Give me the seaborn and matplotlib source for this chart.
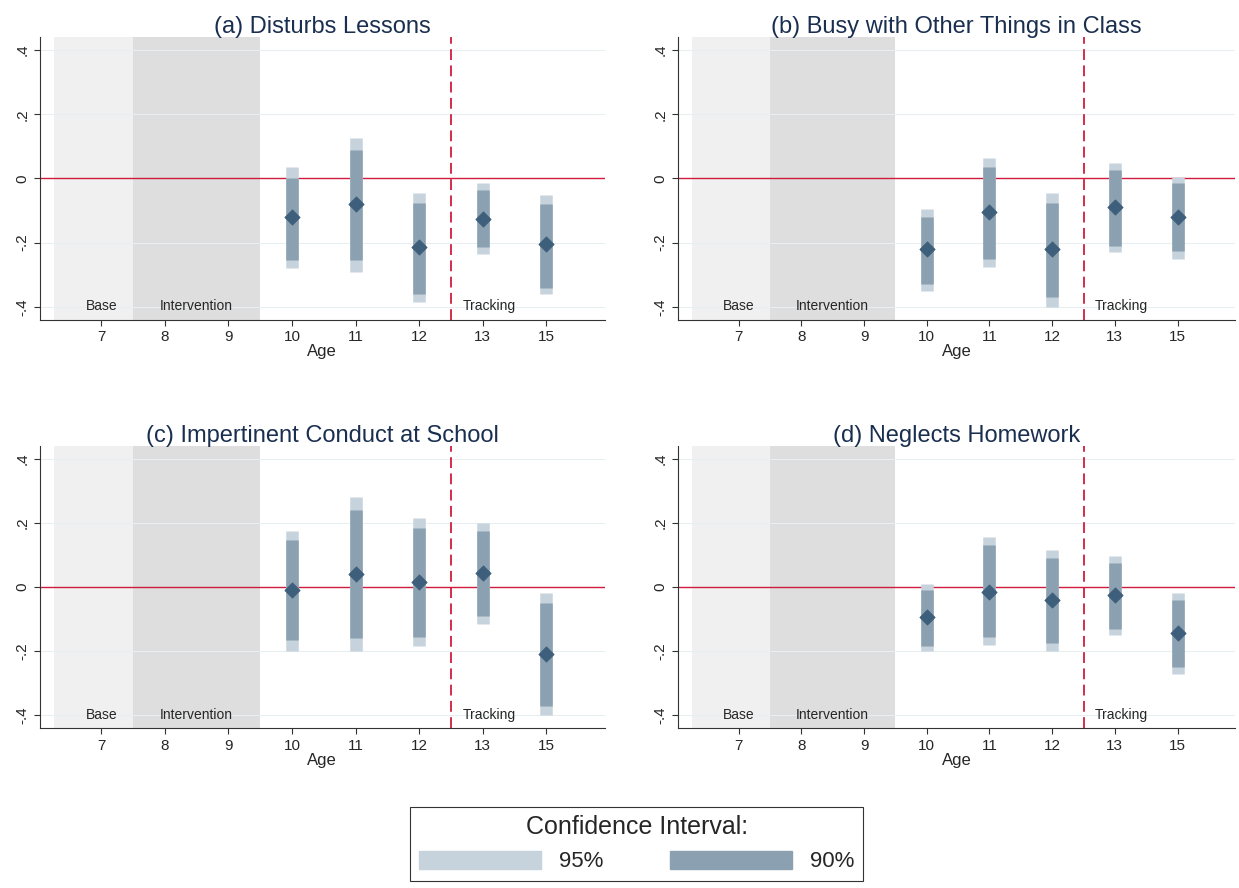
import matplotlib
matplotlib.use("Agg")
import matplotlib.pyplot as plt
import numpy as np
import pandas as pd
import seaborn as sns
from matplotlib.patches import Patch

ages = ["7", "8", "9", "10", "11", "12", "13", "15"]
est_ages = ["10", "11", "12", "13", "15"]
titles = ["(a) Disturbs Lessons", "(b) Busy with Other Things in Class",
          "(c) Impertinent Conduct at School", "(d) Neglects Homework"]

point = [
    [-0.12, -0.08, -0.215, -0.125, -0.205],
    [-0.22, -0.105, -0.22, -0.09, -0.12],
    [-0.01, 0.04, 0.015, 0.045, -0.21],
    [-0.095, -0.015, -0.04, -0.025, -0.145],
]
lo90 = [
    [-0.255, -0.255, -0.36, -0.215, -0.34],
    [-0.33, -0.25, -0.37, -0.21, -0.225],
    [-0.165, -0.16, -0.155, -0.09, -0.37],
    [-0.185, -0.155, -0.175, -0.13, -0.25],
]
hi90 = [
    [0.0, 0.09, -0.075, -0.035, -0.08],
    [-0.12, 0.035, -0.075, 0.025, -0.015],
    [0.145, 0.24, 0.185, 0.175, -0.05],
    [-0.01, 0.13, 0.09, 0.075, -0.04],
]
lo95 = [
    [-0.28, -0.29, -0.385, -0.235, -0.36],
    [-0.35, -0.275, -0.4, -0.23, -0.25],
    [-0.2, -0.2, -0.185, -0.115, -0.4],
    [-0.2, -0.18, -0.2, -0.15, -0.27],
]
hi95 = [
    [0.035, 0.125, -0.045, -0.015, -0.05],
    [-0.095, 0.065, -0.045, 0.048, 0.005],
    [0.175, 0.28, 0.215, 0.2, -0.02],
    [0.01, 0.155, 0.115, 0.095, -0.02],
]

C95 = "#c6d2dc"
C90 = "#8ba1b1"
CPT = "#3e5f7b"
NAVY = "#1a2f50"

sns.set_style("white")
plt.rcParams["font.family"] = ["Arial", "Liberation Sans", "DejaVu Sans"]

fig = plt.figure(figsize=(12.39, 8.88), dpi=100)
boxes = [(0.032, 0.64, 0.456, 0.318), (0.547, 0.64, 0.45, 0.318),
         (0.032, 0.18, 0.456, 0.318), (0.547, 0.18, 0.45, 0.318)]
pos = {a: i for i, a in enumerate(ages)}

for k in range(4):
    ax = fig.add_axes(boxes[k])
    df = pd.DataFrame({"x": [pos[a] for a in est_ages], "y": point[k],
                       "lo90": lo90[k], "hi90": hi90[k],
                       "lo95": lo95[k], "hi95": hi95[k]})
    ax.axvspan(-0.75, 0.5, color="#f0f0f0", lw=0, zorder=0)
    ax.axvspan(0.5, 2.5, color="#dedede", lw=0, zorder=0)
    for yv in [-0.4, -0.2, 0.2, 0.4]:
        ax.axhline(yv, color="#e8eef2", lw=0.8, zorder=0.5)
    ax.vlines(df["x"], df["lo95"], df["hi95"], color=C95, lw=9, zorder=2)
    ax.vlines(df["x"], df["lo90"], df["hi90"], color=C90, lw=9, zorder=3)
    ax.axhline(0, color="#d01c3c", lw=1, zorder=1)
    ax.axvline(5.5, color="#d01c3c", lw=1.3, ls=(0, (6, 3)), zorder=1)
    sns.scatterplot(data=df, x="x", y="y", marker="D", s=60, color=CPT,
                    edgecolor=CPT, ax=ax, zorder=4)
    ax.text(0, -0.41, "Base", ha="center", fontsize=10)
    ax.text(1.5, -0.41, "Intervention", ha="center", fontsize=10)
    ax.text(6.1, -0.41, "Tracking", ha="center", fontsize=10)
    ax.set_xlim(-0.97, 7.92)
    ax.set_ylim(-0.44, 0.44)
    ax.set_xticks(range(len(ages)))
    ax.set_xticklabels(ages, fontsize=11)
    ax.set_yticks([-0.4, -0.2, 0, 0.2, 0.4])
    ax.set_yticklabels(["-.4", "-.2", "0", ".2", ".4"], rotation=90,
                       va="center", fontsize=11)
    ax.set_xlabel("Age", fontsize=12, labelpad=0)
    ax.set_ylabel("")
    ax.set_title(titles[k], fontsize=17, color=NAVY, pad=3)
    for s in ["top", "right"]:
        ax.spines[s].set_visible(False)
    for s in ["left", "bottom"]:
        ax.spines[s].set_color("#333333")
        ax.spines[s].set_linewidth(0.8)
    ax.tick_params(axis="both", length=4, color="#333333", left=True, bottom=True)

handles = [Patch(color=C95, label="95%"), Patch(color=C90, label="90%")]
leg = fig.legend(handles=handles, loc="lower center", ncol=2,
                 bbox_to_anchor=(0.514, -0.005), title="Confidence Interval:",
                 fontsize=16, title_fontsize=18, handlelength=5.5, handleheight=0.9,
                 columnspacing=3, frameon=True, fancybox=False, edgecolor="black")
leg.get_frame().set_linewidth(0.8)

fig.savefig("out.png", dpi=100)
